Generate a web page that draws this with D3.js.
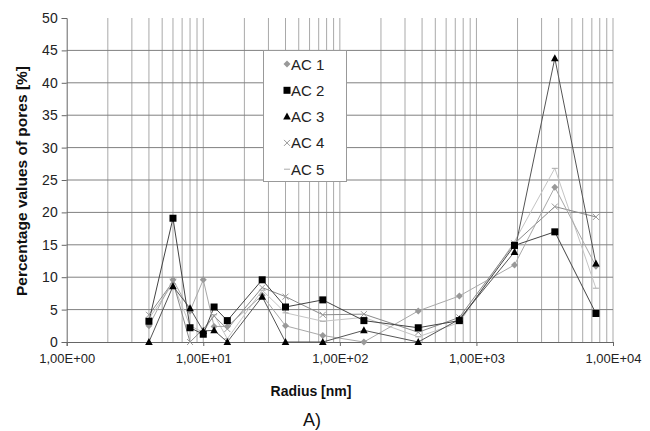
<!DOCTYPE html>
<html>
<head>
<meta charset="utf-8">
<script src="https://cdn.jsdelivr.net/npm/d3@7"></script>
<style>
  body { margin: 0; background: #fff; }
  svg { font-family: "Liberation Sans", Arial, sans-serif; }
</style>
</head>
<body>
<div id="chart"></div>
<script>
// radius of the measured pore classes [nm]
var radius = [4, 6, 8, 10, 12, 15, 27, 40, 75, 150, 375, 750, 1900, 3750, 7500];

// percentage values of pores per sample
var ac1 = [2.5, 9.6, 4.8, 9.6, 2.4, 2.4, 7.2, 2.5, 1.0, 0, 4.8, 7.1, 11.9, 23.9, 11.7];
var ac2 = [3.2, 19.1, 2.2, 1.2, 5.4, 3.3, 9.6, 5.4, 6.5, 3.3, 2.2, 3.3, 14.9, 17.0, 4.4];
var ac3 = [0, 8.6, 5.2, 1.7, 1.8, 0, 7.0, 0, 0, 1.8, 0, 3.5, 13.9, 43.8, 12.1];
var ac4 = [4.2, 9.3, 0, 2.0, 4.0, 2.0, 8.4, 7.0, 4.2, 4.3, 1.5, 3.8, 15.2, 20.9, 19.3];
var ac5 = [3.6, 9.0, 2.5, 1.5, 4.2, 0.5, 8.0, 4.5, 3.2, 3.8, 0.8, 3.0, 15.5, 26.8, 8.3];

var seriesNames = ["AC 1", "AC 2", "AC 3", "AC 4", "AC 5"];
var xTicks = [1, 10, 100, 1000, 10000];
var xTickLabels = ["1,00E+00", "1,00E+01", "1,00E+02", "1,00E+03", "1,00E+04"];
var yTicks = [0, 5, 10, 15, 20, 25, 30, 35, 40, 45, 50];

var series = [
  { name: seriesNames[0], values: ac1, line: "#a8a8a8", marker: "diamond" },
  { name: seriesNames[1], values: ac2, line: "#444", marker: "square" },
  { name: seriesNames[2], values: ac3, line: "#555", marker: "triangle" },
  { name: seriesNames[3], values: ac4, line: "#8a8a8a", marker: "cross" },
  { name: seriesNames[4], values: ac5, line: "#c4c4c4", marker: "dash" }
];

var W = 650, H = 431;
// note: "top" is taken by window.top, so plot edges get their own names
var plotL = 66.7, plotR = 613, plotT = 18, plotB = 342;

var svg = d3.select("#chart").append("svg")
  .attr("width", W).attr("height", H);

var x = d3.scaleLog().domain([1, 10000]).range([plotL, plotR]);
var y = d3.scaleLinear().domain([0, 50]).range([plotB, plotT]);

// vertical gridlines on every log minor step
var minor = [];
for (var e = 0; e < 4; e++) {
  for (var m = 2; m <= 10; m++) minor.push(m * Math.pow(10, e));
}
svg.append("g").selectAll("line").data(minor).enter().append("line")
  .attr("x1", function(d) { return x(d); }).attr("x2", function(d) { return x(d); })
  .attr("y1", plotT).attr("y2", plotB)
  .attr("stroke", "#a9a9a9").attr("stroke-width", 1);

// horizontal gridlines
svg.append("g").selectAll("line").data(yTicks.filter(function(d) { return d > 0 && d < 50; }))
  .enter().append("line")
  .attr("x1", plotL).attr("x2", plotR)
  .attr("y1", function(d) { return y(d); }).attr("y2", function(d) { return y(d); })
  .attr("stroke", "#808080").attr("stroke-width", 1);

// axes
var yAxis = d3.axisLeft(y).tickValues(yTicks).tickSize(5).tickPadding(4);
var gy = svg.append("g").attr("transform", "translate(" + plotL + ",0)").call(yAxis);
gy.select(".domain").attr("stroke", "#666");
gy.selectAll(".tick line").attr("stroke", "#666");
gy.selectAll("text").attr("font-size", 14).attr("fill", "#222");

var xAxis = d3.axisBottom(x).tickValues(xTicks)
  .tickFormat(function(d, i) { return xTickLabels[i]; })
  .tickSize(4).tickPadding(8);
var gx = svg.append("g").attr("transform", "translate(0," + plotB + ")").call(xAxis);
gx.select(".domain").attr("stroke", "#666");
gx.selectAll(".tick line").attr("stroke", "#666");
gx.selectAll("text").attr("font-size", 13).attr("fill", "#222");

// marker shapes
function drawMarker(g, type, cx, cy) {
  if (type === "square") {
    g.append("rect").attr("x", cx - 3.5).attr("y", cy - 3.5)
      .attr("width", 7).attr("height", 7).attr("fill", "#000");
  } else if (type === "triangle") {
    g.append("path").attr("d", "M" + cx + "," + (cy - 4) + "L" + (cx + 3.8) + "," + (cy + 3) + "L" + (cx - 3.8) + "," + (cy + 3) + "Z")
      .attr("fill", "#000");
  } else if (type === "diamond") {
    g.append("path").attr("d", "M" + cx + "," + (cy - 3.5) + "L" + (cx + 3.5) + "," + cy + "L" + cx + "," + (cy + 3.5) + "L" + (cx - 3.5) + "," + cy + "Z")
      .attr("fill", "#999");
  } else if (type === "cross") {
    g.append("path").attr("d", "M" + (cx - 3) + "," + (cy - 3) + "L" + (cx + 3) + "," + (cy + 3) + "M" + (cx + 3) + "," + (cy - 3) + "L" + (cx - 3) + "," + (cy + 3))
      .attr("stroke", "#999").attr("stroke-width", 1);
  } else if (type === "dash") {
    g.append("line").attr("x1", cx - 3).attr("x2", cx + 3).attr("y1", cy).attr("y2", cy)
      .attr("stroke", "#aaa").attr("stroke-width", 1);
  }
}

var line = d3.line()
  .x(function(d, i) { return x(radius[i]); })
  .y(function(d) { return y(d); });

// draw lighter series first so the black ones sit on top
var order = [4, 3, 0, 2, 1];
order.forEach(function(k) {
  var s = series[k];
  svg.append("path").datum(s.values)
    .attr("d", line).attr("fill", "none")
    .attr("stroke", s.line).attr("stroke-width", 1);
});
order.forEach(function(k) {
  var s = series[k];
  var g = svg.append("g");
  s.values.forEach(function(v, i) { drawMarker(g, s.marker, x(radius[i]), y(v)); });
});

// legend box, marker only in front of each name
var lg = svg.append("g");
lg.append("rect").attr("x", 263.5).attr("y", 50.5).attr("width", 83).attr("height", 131)
  .attr("fill", "#fff").attr("stroke", "#999");
series.forEach(function(s, i) {
  var ly = 64 + i * 26.3;
  drawMarker(lg, s.marker, 287, ly);
  lg.append("text").attr("x", 291).attr("y", ly + 5.5)
    .attr("font-size", 15).attr("fill", "#222").text(s.name);
});

// titles
svg.append("text").attr("transform", "translate(27,181) rotate(-90)")
  .attr("text-anchor", "middle").attr("font-size", 15.5).attr("font-weight", "bold")
  .attr("fill", "#111").text("Percentage values of pores [%]");

svg.append("text").attr("x", 311).attr("y", 396)
  .attr("text-anchor", "middle").attr("font-size", 14).attr("font-weight", "bold")
  .attr("fill", "#111").text("Radius [nm]");

svg.append("text").attr("x", 312).attr("y", 426)
  .attr("text-anchor", "middle").attr("font-size", 18)
  .attr("fill", "#111").text("A)");
</script>
</body>
</html>
